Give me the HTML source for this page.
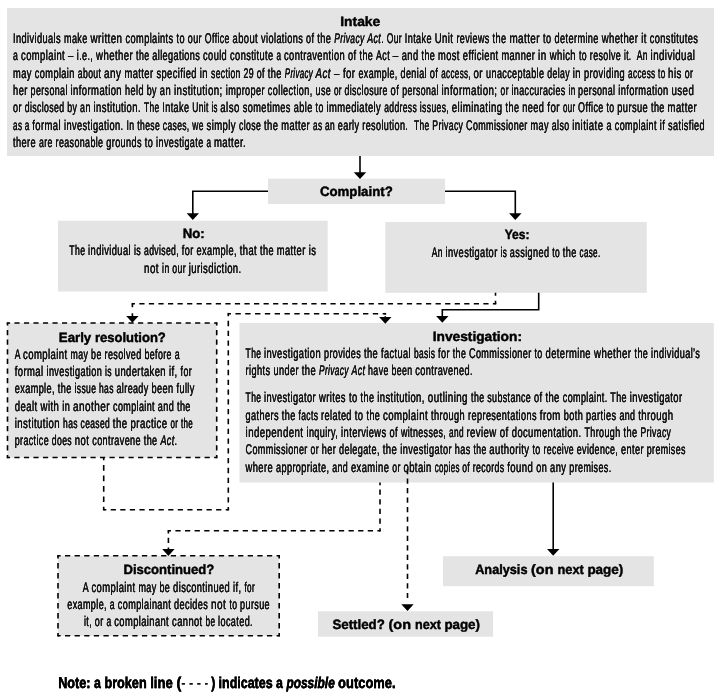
<!DOCTYPE html>
<html lang="en"><head><meta charset="utf-8"><title>Complaint process: Intake and Investigation</title>
<style>
html,body{margin:0;padding:0;background:#fff;}
body{width:720px;height:695px;overflow:hidden;}
svg{display:block;will-change:transform;filter:grayscale(1);}
text{text-rendering:geometricPrecision;font-family:"Liberation Sans",sans-serif;fill:#000;white-space:pre;}
.b{font-size:14px;letter-spacing:.6px;fill:#111;stroke:#111;stroke-width:.2px;filter:drop-shadow(.3px 0 0 #111);}
.t{font-size:13.5px;font-weight:bold;stroke:#000;stroke-width:.45px;}
.n{font-size:15.6px;font-weight:bold;stroke:#000;stroke-width:.3px;filter:drop-shadow(.3px 0 0 #000);}
.i{font-style:italic;}
.h{font-weight:normal;stroke-width:0;}
.bx{fill:#e4e4e4;}
.ln{fill:none;stroke:#000;stroke-width:1.6;}
.dl{fill:none;stroke:#000;stroke-width:1.6;}
.ah{fill:#000;}
</style></head><body>
<svg width="720" height="695" viewBox="0 0 720 695" role="img" aria-label="Flow chart of the complaint process: intake and investigation">
<rect width="720" height="695" fill="#fff"/>
<g id="boxes">
<rect class="bx" x="7.00" y="8.00" width="707.00" height="148.00"/>
<rect class="bx" x="268.00" y="178.70" width="177.00" height="25.30"/>
<rect class="bx" x="58.00" y="220.70" width="269.70" height="70.80"/>
<rect class="bx" x="385.30" y="222.00" width="261.50" height="70.80"/>
<rect class="bx" x="7.50" y="323.00" width="209.20" height="134.50"/>
<rect class="bx" x="239.50" y="323.00" width="474.30" height="159.50"/>
<rect class="bx" x="58.00" y="555.80" width="221.20" height="80.00"/>
<rect class="bx" x="443.00" y="556.20" width="210.80" height="30.00"/>
<rect class="bx" x="318.00" y="611.30" width="175.00" height="25.40"/>
<line class="dl" x1="7.50" y1="323.00" x2="216.70" y2="323.00" stroke-dasharray="5.182 4.327" stroke-dashoffset="2.591"/><line class="dl" x1="216.70" y1="323.00" x2="216.70" y2="457.50" stroke-dasharray="5.236 4.371" stroke-dashoffset="2.618"/><line class="dl" x1="216.70" y1="457.50" x2="7.50" y2="457.50" stroke-dasharray="5.182 4.327" stroke-dashoffset="2.591"/><line class="dl" x1="7.50" y1="457.50" x2="7.50" y2="323.00" stroke-dasharray="5.236 4.371" stroke-dashoffset="2.618"/><rect class="ah" x="6.70" y="322.20" width="1.60" height="1.60"/><rect class="ah" x="215.90" y="322.20" width="1.60" height="1.60"/><rect class="ah" x="215.90" y="456.70" width="1.60" height="1.60"/><rect class="ah" x="6.70" y="456.70" width="1.60" height="1.60"/>
<line class="dl" x1="58.00" y1="555.80" x2="279.20" y2="555.80" stroke-dasharray="5.241 4.376" stroke-dashoffset="2.621"/><line class="dl" x1="279.20" y1="555.80" x2="279.20" y2="635.80" stroke-dasharray="5.450 4.550" stroke-dashoffset="2.725"/><line class="dl" x1="279.20" y1="635.80" x2="58.00" y2="635.80" stroke-dasharray="5.241 4.376" stroke-dashoffset="2.621"/><line class="dl" x1="58.00" y1="635.80" x2="58.00" y2="555.80" stroke-dasharray="5.450 4.550" stroke-dashoffset="2.725"/><rect class="ah" x="57.20" y="555.00" width="1.60" height="1.60"/><rect class="ah" x="278.40" y="555.00" width="1.60" height="1.60"/><rect class="ah" x="278.40" y="635.00" width="1.60" height="1.60"/><rect class="ah" x="57.20" y="635.00" width="1.60" height="1.60"/>
</g>
<g id="connectors">
<path class="ln" d="M360 156 V173"/><path class="ah" d="M353.80 172.20 L366.20 172.20 L360.00 179.00Z"/>
<path class="ln" d="M268 191.3 H192.8 V214"/><path class="ah" d="M186.60 213.30 L199.00 213.30 L192.80 220.10Z"/>
<path class="ln" d="M445 191.3 H515.3 V214"/><path class="ah" d="M509.10 213.30 L521.50 213.30 L515.30 220.10Z"/>
<line class="dl" x1="495.50" y1="292.80" x2="495.50" y2="303.70" stroke-dasharray="5.940 4.959" stroke-dashoffset="2.970"/><line class="dl" x1="495.50" y1="303.70" x2="132.40" y2="303.70" stroke-dasharray="5.208 4.348" stroke-dashoffset="2.604"/><line class="dl" x1="132.40" y1="303.70" x2="132.40" y2="316.70" stroke-dasharray="7.085 5.915" stroke-dashoffset="3.543"/><rect class="ah" x="494.70" y="302.90" width="1.60" height="1.60"/><rect class="ah" x="131.60" y="302.90" width="1.60" height="1.60"/><path class="ah" d="M126.20 316.00 L138.60 316.00 L132.40 322.80Z"/>
<path class="ln" d="M538.7 292.8 V309.8 H442.3 V316"/><path class="ah" d="M436.10 316.00 L448.50 316.00 L442.30 322.80Z"/>
<line class="dl" x1="103.70" y1="457.50" x2="103.70" y2="509.70" stroke-dasharray="5.690 4.750" stroke-dashoffset="2.845"/><line class="dl" x1="103.70" y1="509.70" x2="228.30" y2="509.70" stroke-dasharray="5.224 4.361" stroke-dashoffset="2.612"/><line class="dl" x1="228.30" y1="509.70" x2="228.30" y2="313.70" stroke-dasharray="5.341 4.459" stroke-dashoffset="2.671"/><line class="dl" x1="228.30" y1="313.70" x2="385.30" y2="313.70" stroke-dasharray="5.348 4.465" stroke-dashoffset="2.674"/><line class="dl" x1="385.30" y1="313.70" x2="385.30" y2="318.00" stroke-dasharray="1.842 1.538" stroke-dashoffset="0.921"/><rect class="ah" x="102.90" y="508.90" width="1.60" height="1.60"/><rect class="ah" x="227.50" y="508.90" width="1.60" height="1.60"/><rect class="ah" x="227.50" y="312.90" width="1.60" height="1.60"/><rect class="ah" x="384.50" y="312.90" width="1.60" height="1.60"/><path class="ah" d="M379.10 317.00 L391.50 317.00 L385.30 323.80Z"/>
<line class="dl" x1="380.00" y1="482.50" x2="380.00" y2="530.80" stroke-dasharray="5.265 4.395" stroke-dashoffset="2.632"/><line class="dl" x1="380.00" y1="530.80" x2="168.40" y2="530.80" stroke-dasharray="5.242 4.376" stroke-dashoffset="2.621"/><line class="dl" x1="168.40" y1="530.80" x2="168.40" y2="550.00" stroke-dasharray="5.232 4.368" stroke-dashoffset="2.616"/><rect class="ah" x="379.20" y="530.00" width="1.60" height="1.60"/><rect class="ah" x="167.60" y="530.00" width="1.60" height="1.60"/><path class="ah" d="M162.20 549.10 L174.60 549.10 L168.40 555.90Z"/>
<line class="dl" x1="407.50" y1="469.00" x2="407.50" y2="598.10" stroke-dasharray="5.194 4.337" stroke-dashoffset="0.000"/><path class="ah" d="M401.30 604.30 L413.70 604.30 L407.50 611.10Z"/>
<path class="ln" d="M553.2 482.5 V549"/><path class="ah" d="M547.00 549.00 L559.40 549.00 L553.20 555.80Z"/>
</g>
<g id="titles">
<text class="t" y="25.50"><tspan x="340.20" textLength="40.10" lengthAdjust="spacingAndGlyphs">Intake</tspan></text>
<text class="t" y="195.80"><tspan x="319.90" textLength="72.90" lengthAdjust="spacingAndGlyphs">Complaint?</tspan></text>
<text class="t" y="238.00"><tspan x="182.70" textLength="22.00" lengthAdjust="spacingAndGlyphs">No:</tspan></text>
<text class="t" y="239.30"><tspan x="504.70" textLength="24.70" lengthAdjust="spacingAndGlyphs">Yes:</tspan></text>
<text class="t" y="341.70"><tspan x="58.80" textLength="36.10" lengthAdjust="spacingAndGlyphs">Early </tspan><tspan x="94.90" textLength="70.90" lengthAdjust="spacingAndGlyphs">resolution?</tspan></text>
<text class="t" y="340.80"><tspan x="432.70" textLength="89.30" lengthAdjust="spacingAndGlyphs">Investigation:</tspan></text>
<text class="t" y="574.20"><tspan x="123.50" textLength="90.70" lengthAdjust="spacingAndGlyphs">Discontinued?</tspan></text>
<text class="t" y="573.50"><tspan x="475.20" textLength="55.80" lengthAdjust="spacingAndGlyphs">Analysis </tspan><tspan x="531.00" textLength="26.50" lengthAdjust="spacingAndGlyphs">(on </tspan><tspan x="557.50" textLength="29.90" lengthAdjust="spacingAndGlyphs">next </tspan><tspan x="587.40" textLength="35.90" lengthAdjust="spacingAndGlyphs">page)</tspan></text>
<text class="t" y="628.80"><tspan x="332.40" textLength="56.10" lengthAdjust="spacingAndGlyphs">Settled? </tspan><tspan x="388.50" textLength="26.50" lengthAdjust="spacingAndGlyphs">(on </tspan><tspan x="415.00" textLength="29.40" lengthAdjust="spacingAndGlyphs">next </tspan><tspan x="444.40" textLength="35.60" lengthAdjust="spacingAndGlyphs">page)</tspan></text>
</g>
<g id="body">
<text class="b" y="42.80"><tspan x="13.10" textLength="50.90" lengthAdjust="spacingAndGlyphs">Individuals </tspan><tspan x="64.00" textLength="26.60" lengthAdjust="spacingAndGlyphs">make </tspan><tspan x="90.60" textLength="35.00" lengthAdjust="spacingAndGlyphs">written </tspan><tspan x="125.60" textLength="50.90" lengthAdjust="spacingAndGlyphs">complaints </tspan><tspan x="176.50" textLength="11.30" lengthAdjust="spacingAndGlyphs">to </tspan><tspan x="187.80" textLength="17.00" lengthAdjust="spacingAndGlyphs">our </tspan><tspan x="204.80" textLength="27.80" lengthAdjust="spacingAndGlyphs">Office </tspan><tspan x="232.60" textLength="28.50" lengthAdjust="spacingAndGlyphs">about </tspan><tspan x="261.10" textLength="45.00" lengthAdjust="spacingAndGlyphs">violations </tspan><tspan x="306.10" textLength="11.20" lengthAdjust="spacingAndGlyphs">of </tspan><tspan x="317.30" textLength="17.00" lengthAdjust="spacingAndGlyphs">the </tspan><tspan class="i" x="334.30" textLength="33.00" lengthAdjust="spacingAndGlyphs">Privacy </tspan><tspan x="367.30" textLength="19.50" lengthAdjust="spacingAndGlyphs"><tspan class="i">Act</tspan>. </tspan><tspan x="386.80" textLength="18.00" lengthAdjust="spacingAndGlyphs">Our </tspan><tspan x="404.80" textLength="30.00" lengthAdjust="spacingAndGlyphs">Intake </tspan><tspan x="434.80" textLength="21.70" lengthAdjust="spacingAndGlyphs">Unit </tspan><tspan x="456.50" textLength="36.00" lengthAdjust="spacingAndGlyphs">reviews </tspan><tspan x="492.50" textLength="16.90" lengthAdjust="spacingAndGlyphs">the </tspan><tspan x="509.40" textLength="33.70" lengthAdjust="spacingAndGlyphs">matter </tspan><tspan x="543.10" textLength="58.70" lengthAdjust="spacingAndGlyphs">to determine </tspan><tspan x="601.80" textLength="39.50" lengthAdjust="spacingAndGlyphs">whether </tspan><tspan x="641.30" textLength="8.50" lengthAdjust="spacingAndGlyphs">it </tspan><tspan x="649.80" textLength="48.50" lengthAdjust="spacingAndGlyphs">constitutes</tspan></text>
<text class="b" y="60.20"><tspan x="13.10" textLength="8.00" lengthAdjust="spacingAndGlyphs">a </tspan><tspan x="21.10" textLength="47.00" lengthAdjust="spacingAndGlyphs">complaint </tspan><tspan x="68.10" textLength="8.70" lengthAdjust="spacingAndGlyphs">– </tspan><tspan x="76.80" textLength="19.30" lengthAdjust="spacingAndGlyphs">i.e., </tspan><tspan x="96.10" textLength="40.00" lengthAdjust="spacingAndGlyphs">whether </tspan><tspan x="136.10" textLength="16.20" lengthAdjust="spacingAndGlyphs">the </tspan><tspan x="152.30" textLength="50.80" lengthAdjust="spacingAndGlyphs">allegations </tspan><tspan x="203.10" textLength="27.00" lengthAdjust="spacingAndGlyphs">could </tspan><tspan x="230.10" textLength="46.40" lengthAdjust="spacingAndGlyphs">constitute </tspan><tspan x="276.50" textLength="7.50" lengthAdjust="spacingAndGlyphs">a </tspan><tspan x="284.00" textLength="64.10" lengthAdjust="spacingAndGlyphs">contravention </tspan><tspan x="348.10" textLength="11.40" lengthAdjust="spacingAndGlyphs">of </tspan><tspan x="359.50" textLength="16.60" lengthAdjust="spacingAndGlyphs">the </tspan><tspan x="376.10" textLength="16.70" lengthAdjust="spacingAndGlyphs">Act </tspan><tspan x="392.80" textLength="9.00" lengthAdjust="spacingAndGlyphs">– </tspan><tspan x="401.80" textLength="19.70" lengthAdjust="spacingAndGlyphs">and </tspan><tspan x="421.50" textLength="16.60" lengthAdjust="spacingAndGlyphs">the </tspan><tspan x="438.10" textLength="24.70" lengthAdjust="spacingAndGlyphs">most </tspan><tspan x="462.80" textLength="38.70" lengthAdjust="spacingAndGlyphs">efficient </tspan><tspan x="501.50" textLength="36.60" lengthAdjust="spacingAndGlyphs">manner </tspan><tspan x="538.10" textLength="11.70" lengthAdjust="spacingAndGlyphs">in </tspan><tspan x="549.80" textLength="29.20" lengthAdjust="spacingAndGlyphs">which </tspan><tspan x="579.00" textLength="10.80" lengthAdjust="spacingAndGlyphs">to </tspan><tspan x="589.80" textLength="34.20" lengthAdjust="spacingAndGlyphs">resolve </tspan><tspan x="624.00" textLength="12.80" lengthAdjust="spacingAndGlyphs">it.  </tspan><tspan x="636.80" textLength="13.80" lengthAdjust="spacingAndGlyphs">An </tspan><tspan x="650.60" textLength="44.70" lengthAdjust="spacingAndGlyphs">individual</tspan></text>
<text class="b" y="77.60"><tspan x="13.10" textLength="21.70" lengthAdjust="spacingAndGlyphs">may </tspan><tspan x="34.80" textLength="43.00" lengthAdjust="spacingAndGlyphs">complain </tspan><tspan x="77.80" textLength="26.20" lengthAdjust="spacingAndGlyphs">about </tspan><tspan x="104.00" textLength="20.50" lengthAdjust="spacingAndGlyphs">any </tspan><tspan x="124.50" textLength="32.00" lengthAdjust="spacingAndGlyphs">matter </tspan><tspan x="156.50" textLength="43.30" lengthAdjust="spacingAndGlyphs">specified </tspan><tspan x="199.80" textLength="11.20" lengthAdjust="spacingAndGlyphs">in </tspan><tspan x="211.00" textLength="32.50" lengthAdjust="spacingAndGlyphs">section </tspan><tspan x="243.50" textLength="13.30" lengthAdjust="spacingAndGlyphs">29 </tspan><tspan x="256.80" textLength="11.00" lengthAdjust="spacingAndGlyphs">of </tspan><tspan x="267.80" textLength="17.00" lengthAdjust="spacingAndGlyphs">the </tspan><tspan class="i" x="284.80" textLength="30.80" lengthAdjust="spacingAndGlyphs">Privacy </tspan><tspan class="i" x="315.60" textLength="18.40" lengthAdjust="spacingAndGlyphs">Act </tspan><tspan x="334.00" textLength="24.50" lengthAdjust="spacingAndGlyphs">– for </tspan><tspan x="358.50" textLength="42.10" lengthAdjust="spacingAndGlyphs">example, </tspan><tspan x="400.60" textLength="29.20" lengthAdjust="spacingAndGlyphs">denial </tspan><tspan x="429.80" textLength="11.50" lengthAdjust="spacingAndGlyphs">of </tspan><tspan x="441.30" textLength="32.20" lengthAdjust="spacingAndGlyphs">access, </tspan><tspan x="473.50" textLength="12.60" lengthAdjust="spacingAndGlyphs">or </tspan><tspan x="486.10" textLength="61.20" lengthAdjust="spacingAndGlyphs">unacceptable </tspan><tspan x="547.30" textLength="25.50" lengthAdjust="spacingAndGlyphs">delay </tspan><tspan x="572.80" textLength="11.20" lengthAdjust="spacingAndGlyphs">in </tspan><tspan x="584.00" textLength="44.10" lengthAdjust="spacingAndGlyphs">providing </tspan><tspan x="628.10" textLength="30.00" lengthAdjust="spacingAndGlyphs">access </tspan><tspan x="658.10" textLength="10.00" lengthAdjust="spacingAndGlyphs">to </tspan><tspan x="668.10" textLength="16.70" lengthAdjust="spacingAndGlyphs">his </tspan><tspan x="684.80" textLength="8.50" lengthAdjust="spacingAndGlyphs">or</tspan></text>
<text class="b" y="95.00"><tspan x="13.10" textLength="17.50" lengthAdjust="spacingAndGlyphs">her </tspan><tspan x="30.60" textLength="40.00" lengthAdjust="spacingAndGlyphs">personal </tspan><tspan x="70.60" textLength="54.50" lengthAdjust="spacingAndGlyphs">information </tspan><tspan x="125.10" textLength="21.70" lengthAdjust="spacingAndGlyphs">held </tspan><tspan x="146.80" textLength="13.00" lengthAdjust="spacingAndGlyphs">by </tspan><tspan x="159.80" textLength="14.20" lengthAdjust="spacingAndGlyphs">an </tspan><tspan x="174.00" textLength="51.80" lengthAdjust="spacingAndGlyphs">institution; </tspan><tspan x="225.80" textLength="42.00" lengthAdjust="spacingAndGlyphs">improper </tspan><tspan x="267.80" textLength="47.80" lengthAdjust="spacingAndGlyphs">collection, </tspan><tspan x="315.60" textLength="18.40" lengthAdjust="spacingAndGlyphs">use </tspan><tspan x="334.00" textLength="10.50" lengthAdjust="spacingAndGlyphs">or </tspan><tspan x="344.50" textLength="46.10" lengthAdjust="spacingAndGlyphs">disclosure </tspan><tspan x="390.60" textLength="11.70" lengthAdjust="spacingAndGlyphs">of </tspan><tspan x="402.30" textLength="39.20" lengthAdjust="spacingAndGlyphs">personal </tspan><tspan x="441.50" textLength="59.10" lengthAdjust="spacingAndGlyphs">information; </tspan><tspan x="500.60" textLength="10.90" lengthAdjust="spacingAndGlyphs">or </tspan><tspan x="511.50" textLength="57.00" lengthAdjust="spacingAndGlyphs">inaccuracies </tspan><tspan x="568.50" textLength="9.60" lengthAdjust="spacingAndGlyphs">in </tspan><tspan x="578.10" textLength="40.20" lengthAdjust="spacingAndGlyphs">personal </tspan><tspan x="618.30" textLength="53.20" lengthAdjust="spacingAndGlyphs">information </tspan><tspan x="671.50" textLength="22.80" lengthAdjust="spacingAndGlyphs">used</tspan></text>
<text class="b" y="112.40"><tspan x="13.10" textLength="11.70" lengthAdjust="spacingAndGlyphs">or </tspan><tspan x="24.80" textLength="42.50" lengthAdjust="spacingAndGlyphs">disclosed </tspan><tspan x="67.30" textLength="12.80" lengthAdjust="spacingAndGlyphs">by </tspan><tspan x="80.10" textLength="13.50" lengthAdjust="spacingAndGlyphs">an </tspan><tspan x="93.60" textLength="50.40" lengthAdjust="spacingAndGlyphs">institution. </tspan><tspan x="144.00" textLength="18.30" lengthAdjust="spacingAndGlyphs">The </tspan><tspan x="162.30" textLength="30.00" lengthAdjust="spacingAndGlyphs">Intake </tspan><tspan x="192.30" textLength="19.20" lengthAdjust="spacingAndGlyphs">Unit </tspan><tspan x="211.50" textLength="8.80" lengthAdjust="spacingAndGlyphs">is </tspan><tspan x="220.30" textLength="22.50" lengthAdjust="spacingAndGlyphs">also </tspan><tspan x="242.80" textLength="51.00" lengthAdjust="spacingAndGlyphs">sometimes </tspan><tspan x="293.80" textLength="21.80" lengthAdjust="spacingAndGlyphs">able </tspan><tspan x="315.60" textLength="10.90" lengthAdjust="spacingAndGlyphs">to </tspan><tspan x="326.50" textLength="57.70" lengthAdjust="spacingAndGlyphs">immediately </tspan><tspan x="384.20" textLength="35.60" lengthAdjust="spacingAndGlyphs">address </tspan><tspan x="419.80" textLength="32.00" lengthAdjust="spacingAndGlyphs">issues, </tspan><tspan x="451.80" textLength="53.80" lengthAdjust="spacingAndGlyphs">eliminating </tspan><tspan x="505.60" textLength="16.70" lengthAdjust="spacingAndGlyphs">the </tspan><tspan x="522.30" textLength="25.00" lengthAdjust="spacingAndGlyphs">need </tspan><tspan x="547.30" textLength="15.80" lengthAdjust="spacingAndGlyphs">for </tspan><tspan x="563.10" textLength="15.00" lengthAdjust="spacingAndGlyphs">our </tspan><tspan x="578.10" textLength="28.40" lengthAdjust="spacingAndGlyphs">Office </tspan><tspan x="606.50" textLength="10.80" lengthAdjust="spacingAndGlyphs">to </tspan><tspan x="617.30" textLength="33.70" lengthAdjust="spacingAndGlyphs">pursue </tspan><tspan x="651.00" textLength="16.60" lengthAdjust="spacingAndGlyphs">the </tspan><tspan x="667.60" textLength="29.40" lengthAdjust="spacingAndGlyphs">matter</tspan></text>
<text class="b" y="129.80"><tspan x="13.10" textLength="11.70" lengthAdjust="spacingAndGlyphs">as </tspan><tspan x="24.80" textLength="7.50" lengthAdjust="spacingAndGlyphs">a </tspan><tspan x="32.30" textLength="31.70" lengthAdjust="spacingAndGlyphs">formal </tspan><tspan x="64.00" textLength="62.50" lengthAdjust="spacingAndGlyphs">investigation. </tspan><tspan x="126.50" textLength="10.80" lengthAdjust="spacingAndGlyphs">In </tspan><tspan x="137.30" textLength="25.50" lengthAdjust="spacingAndGlyphs">these </tspan><tspan x="162.80" textLength="29.50" lengthAdjust="spacingAndGlyphs">cases, </tspan><tspan x="192.30" textLength="14.20" lengthAdjust="spacingAndGlyphs">we </tspan><tspan x="206.50" textLength="32.50" lengthAdjust="spacingAndGlyphs">simply </tspan><tspan x="239.00" textLength="25.00" lengthAdjust="spacingAndGlyphs">close </tspan><tspan x="264.00" textLength="17.30" lengthAdjust="spacingAndGlyphs">the </tspan><tspan x="281.30" textLength="31.70" lengthAdjust="spacingAndGlyphs">matter </tspan><tspan x="313.00" textLength="12.00" lengthAdjust="spacingAndGlyphs">as </tspan><tspan x="325.00" textLength="12.80" lengthAdjust="spacingAndGlyphs">an </tspan><tspan x="337.80" textLength="24.50" lengthAdjust="spacingAndGlyphs">early </tspan><tspan x="362.30" textLength="51.70" lengthAdjust="spacingAndGlyphs">resolution.  </tspan><tspan x="414.00" textLength="18.30" lengthAdjust="spacingAndGlyphs">The </tspan><tspan x="432.30" textLength="33.80" lengthAdjust="spacingAndGlyphs">Privacy </tspan><tspan x="466.10" textLength="64.50" lengthAdjust="spacingAndGlyphs">Commissioner </tspan><tspan x="530.60" textLength="21.20" lengthAdjust="spacingAndGlyphs">may </tspan><tspan x="551.80" textLength="20.50" lengthAdjust="spacingAndGlyphs">also </tspan><tspan x="572.30" textLength="34.20" lengthAdjust="spacingAndGlyphs">initiate </tspan><tspan x="606.50" textLength="53.30" lengthAdjust="spacingAndGlyphs">a complaint </tspan><tspan x="659.80" textLength="45.20" lengthAdjust="spacingAndGlyphs">if satisfied</tspan></text>
<text class="b" y="147.20"><tspan x="13.10" textLength="25.90" lengthAdjust="spacingAndGlyphs">there </tspan><tspan x="39.00" textLength="16.60" lengthAdjust="spacingAndGlyphs">are </tspan><tspan x="55.60" textLength="50.70" lengthAdjust="spacingAndGlyphs">reasonable </tspan><tspan x="106.30" textLength="38.50" lengthAdjust="spacingAndGlyphs">grounds </tspan><tspan x="144.80" textLength="11.30" lengthAdjust="spacingAndGlyphs">to </tspan><tspan x="156.10" textLength="50.40" lengthAdjust="spacingAndGlyphs">investigate </tspan><tspan x="206.50" textLength="7.50" lengthAdjust="spacingAndGlyphs">a </tspan><tspan x="214.00" textLength="32.00" lengthAdjust="spacingAndGlyphs">matter.</tspan></text>
<text class="b" y="255.30"><tspan x="69.30" textLength="18.80" lengthAdjust="spacingAndGlyphs">The </tspan><tspan x="88.10" textLength="45.90" lengthAdjust="spacingAndGlyphs">individual </tspan><tspan x="134.00" textLength="10.00" lengthAdjust="spacingAndGlyphs">is </tspan><tspan x="144.00" textLength="37.80" lengthAdjust="spacingAndGlyphs">advised, </tspan><tspan x="181.80" textLength="14.70" lengthAdjust="spacingAndGlyphs">for </tspan><tspan x="196.50" textLength="43.30" lengthAdjust="spacingAndGlyphs">example, </tspan><tspan x="239.80" textLength="20.30" lengthAdjust="spacingAndGlyphs">that </tspan><tspan x="260.10" textLength="16.70" lengthAdjust="spacingAndGlyphs">the </tspan><tspan x="276.80" textLength="39.50" lengthAdjust="spacingAndGlyphs">matter is</tspan></text>
<text class="b" y="272.70"><tspan x="144.10" textLength="18.00" lengthAdjust="spacingAndGlyphs">not </tspan><tspan x="162.10" textLength="10.20" lengthAdjust="spacingAndGlyphs">in </tspan><tspan x="172.30" textLength="16.50" lengthAdjust="spacingAndGlyphs">our </tspan><tspan x="188.80" textLength="52.80" lengthAdjust="spacingAndGlyphs">jurisdiction.</tspan></text>
<text class="b" y="256.80"><tspan x="431.80" textLength="13.80" lengthAdjust="spacingAndGlyphs">An </tspan><tspan x="445.60" textLength="55.00" lengthAdjust="spacingAndGlyphs">investigator </tspan><tspan x="500.60" textLength="9.20" lengthAdjust="spacingAndGlyphs">is </tspan><tspan x="509.80" textLength="42.50" lengthAdjust="spacingAndGlyphs">assigned </tspan><tspan x="552.30" textLength="10.50" lengthAdjust="spacingAndGlyphs">to </tspan><tspan x="562.80" textLength="16.80" lengthAdjust="spacingAndGlyphs">the </tspan><tspan x="579.60" textLength="20.90" lengthAdjust="spacingAndGlyphs">case.</tspan></text>
<text class="b" y="358.60"><tspan x="14.80" textLength="8.30" lengthAdjust="spacingAndGlyphs">A </tspan><tspan x="23.10" textLength="47.50" lengthAdjust="spacingAndGlyphs">complaint </tspan><tspan x="70.60" textLength="20.50" lengthAdjust="spacingAndGlyphs">may </tspan><tspan x="91.10" textLength="13.40" lengthAdjust="spacingAndGlyphs">be </tspan><tspan x="104.50" textLength="40.00" lengthAdjust="spacingAndGlyphs">resolved </tspan><tspan x="144.50" textLength="35.50" lengthAdjust="spacingAndGlyphs">before a</tspan></text>
<text class="b" y="376.00"><tspan x="14.80" textLength="31.70" lengthAdjust="spacingAndGlyphs">formal </tspan><tspan x="46.50" textLength="58.60" lengthAdjust="spacingAndGlyphs">investigation </tspan><tspan x="105.10" textLength="9.70" lengthAdjust="spacingAndGlyphs">is </tspan><tspan x="114.80" textLength="54.20" lengthAdjust="spacingAndGlyphs">undertaken </tspan><tspan x="169.00" textLength="11.60" lengthAdjust="spacingAndGlyphs">if, </tspan><tspan x="180.60" textLength="11.40" lengthAdjust="spacingAndGlyphs">for</tspan></text>
<text class="b" y="393.30"><tspan x="14.80" textLength="43.00" lengthAdjust="spacingAndGlyphs">example, </tspan><tspan x="57.80" textLength="16.70" lengthAdjust="spacingAndGlyphs">the </tspan><tspan x="74.50" textLength="24.50" lengthAdjust="spacingAndGlyphs">issue </tspan><tspan x="99.00" textLength="17.50" lengthAdjust="spacingAndGlyphs">has </tspan><tspan x="116.50" textLength="35.00" lengthAdjust="spacingAndGlyphs">already </tspan><tspan x="151.50" textLength="25.00" lengthAdjust="spacingAndGlyphs">been </tspan><tspan x="176.50" textLength="18.20" lengthAdjust="spacingAndGlyphs">fully</tspan></text>
<text class="b" y="410.60"><tspan x="14.80" textLength="25.80" lengthAdjust="spacingAndGlyphs">dealt </tspan><tspan x="40.60" textLength="21.70" lengthAdjust="spacingAndGlyphs">with </tspan><tspan x="62.30" textLength="10.80" lengthAdjust="spacingAndGlyphs">in </tspan><tspan x="73.10" textLength="40.00" lengthAdjust="spacingAndGlyphs">another </tspan><tspan x="113.10" textLength="44.70" lengthAdjust="spacingAndGlyphs">complaint </tspan><tspan x="157.80" textLength="33.00" lengthAdjust="spacingAndGlyphs">and the</tspan></text>
<text class="b" y="427.80"><tspan x="14.80" textLength="48.30" lengthAdjust="spacingAndGlyphs">institution </tspan><tspan x="63.10" textLength="17.50" lengthAdjust="spacingAndGlyphs">has </tspan><tspan x="80.60" textLength="32.20" lengthAdjust="spacingAndGlyphs">ceased </tspan><tspan x="112.80" textLength="57.80" lengthAdjust="spacingAndGlyphs">the practice </tspan><tspan x="170.60" textLength="22.40" lengthAdjust="spacingAndGlyphs">or the</tspan></text>
<text class="b" y="445.10"><tspan x="14.80" textLength="37.00" lengthAdjust="spacingAndGlyphs">practice </tspan><tspan x="51.80" textLength="23.00" lengthAdjust="spacingAndGlyphs">does </tspan><tspan x="74.80" textLength="17.50" lengthAdjust="spacingAndGlyphs">not </tspan><tspan x="92.30" textLength="85.20" lengthAdjust="spacingAndGlyphs">contravene the <tspan class="i">Act</tspan>.</tspan></text>
<text class="b" y="357.80"><tspan x="245.60" textLength="18.40" lengthAdjust="spacingAndGlyphs">The </tspan><tspan x="264.00" textLength="60.00" lengthAdjust="spacingAndGlyphs">investigation </tspan><tspan x="324.00" textLength="40.00" lengthAdjust="spacingAndGlyphs">provides </tspan><tspan x="364.00" textLength="17.10" lengthAdjust="spacingAndGlyphs">the </tspan><tspan x="381.10" textLength="32.90" lengthAdjust="spacingAndGlyphs">factual </tspan><tspan x="414.00" textLength="24.10" lengthAdjust="spacingAndGlyphs">basis </tspan><tspan x="438.10" textLength="14.70" lengthAdjust="spacingAndGlyphs">for </tspan><tspan x="452.80" textLength="16.20" lengthAdjust="spacingAndGlyphs">the </tspan><tspan x="469.00" textLength="65.50" lengthAdjust="spacingAndGlyphs">Commissioner </tspan><tspan x="534.50" textLength="11.10" lengthAdjust="spacingAndGlyphs">to </tspan><tspan x="545.60" textLength="48.40" lengthAdjust="spacingAndGlyphs">determine </tspan><tspan x="594.00" textLength="40.50" lengthAdjust="spacingAndGlyphs">whether </tspan><tspan x="634.50" textLength="16.60" lengthAdjust="spacingAndGlyphs">the </tspan><tspan x="651.10" textLength="49.20" lengthAdjust="spacingAndGlyphs">individual’s</tspan></text>
<text class="b" y="375.30"><tspan x="245.60" textLength="27.90" lengthAdjust="spacingAndGlyphs">rights </tspan><tspan x="273.50" textLength="28.30" lengthAdjust="spacingAndGlyphs">under </tspan><tspan x="301.80" textLength="17.20" lengthAdjust="spacingAndGlyphs">the </tspan><tspan class="i" x="319.00" textLength="32.50" lengthAdjust="spacingAndGlyphs">Privacy </tspan><tspan class="i" x="351.50" textLength="16.60" lengthAdjust="spacingAndGlyphs">Act </tspan><tspan x="368.10" textLength="23.40" lengthAdjust="spacingAndGlyphs">have </tspan><tspan x="391.50" textLength="23.80" lengthAdjust="spacingAndGlyphs">been </tspan><tspan x="415.30" textLength="57.70" lengthAdjust="spacingAndGlyphs">contravened.</tspan></text>
<text class="b" y="402.20"><tspan x="245.60" textLength="18.40" lengthAdjust="spacingAndGlyphs">The </tspan><tspan x="264.00" textLength="55.00" lengthAdjust="spacingAndGlyphs">investigator </tspan><tspan x="319.00" textLength="30.00" lengthAdjust="spacingAndGlyphs">writes </tspan><tspan x="349.00" textLength="11.60" lengthAdjust="spacingAndGlyphs">to </tspan><tspan x="360.60" textLength="16.70" lengthAdjust="spacingAndGlyphs">the </tspan><tspan x="377.30" textLength="50.50" lengthAdjust="spacingAndGlyphs">institution, </tspan><tspan x="427.80" textLength="43.30" lengthAdjust="spacingAndGlyphs">outlining </tspan><tspan x="471.10" textLength="16.20" lengthAdjust="spacingAndGlyphs">the </tspan><tspan x="487.30" textLength="46.70" lengthAdjust="spacingAndGlyphs">substance </tspan><tspan x="534.00" textLength="11.40" lengthAdjust="spacingAndGlyphs">of </tspan><tspan x="545.40" textLength="17.40" lengthAdjust="spacingAndGlyphs">the </tspan><tspan x="562.80" textLength="67.00" lengthAdjust="spacingAndGlyphs">complaint. The </tspan><tspan x="629.80" textLength="52.70" lengthAdjust="spacingAndGlyphs">investigator</tspan></text>
<text class="b" y="419.60"><tspan x="245.60" textLength="36.20" lengthAdjust="spacingAndGlyphs">gathers </tspan><tspan x="281.80" textLength="16.70" lengthAdjust="spacingAndGlyphs">the </tspan><tspan x="298.50" textLength="22.60" lengthAdjust="spacingAndGlyphs">facts </tspan><tspan x="321.10" textLength="33.70" lengthAdjust="spacingAndGlyphs">related </tspan><tspan x="354.80" textLength="11.70" lengthAdjust="spacingAndGlyphs">to </tspan><tspan x="366.50" textLength="16.60" lengthAdjust="spacingAndGlyphs">the </tspan><tspan x="383.10" textLength="48.00" lengthAdjust="spacingAndGlyphs">complaint </tspan><tspan x="431.10" textLength="37.00" lengthAdjust="spacingAndGlyphs">through </tspan><tspan x="468.10" textLength="71.70" lengthAdjust="spacingAndGlyphs">representations </tspan><tspan x="539.80" textLength="24.00" lengthAdjust="spacingAndGlyphs">from </tspan><tspan x="563.80" textLength="22.30" lengthAdjust="spacingAndGlyphs">both </tspan><tspan x="586.10" textLength="33.30" lengthAdjust="spacingAndGlyphs">parties </tspan><tspan x="619.40" textLength="18.80" lengthAdjust="spacingAndGlyphs">and </tspan><tspan x="638.20" textLength="35.40" lengthAdjust="spacingAndGlyphs">through</tspan></text>
<text class="b" y="437.00"><tspan x="245.60" textLength="60.90" lengthAdjust="spacingAndGlyphs">independent </tspan><tspan x="306.50" textLength="34.60" lengthAdjust="spacingAndGlyphs">inquiry, </tspan><tspan x="341.10" textLength="48.40" lengthAdjust="spacingAndGlyphs">interviews </tspan><tspan x="389.50" textLength="11.50" lengthAdjust="spacingAndGlyphs">of </tspan><tspan x="401.00" textLength="48.00" lengthAdjust="spacingAndGlyphs">witnesses, </tspan><tspan x="449.00" textLength="17.50" lengthAdjust="spacingAndGlyphs">and </tspan><tspan x="466.50" textLength="33.30" lengthAdjust="spacingAndGlyphs">review </tspan><tspan x="499.80" textLength="12.00" lengthAdjust="spacingAndGlyphs">of </tspan><tspan x="511.80" textLength="72.70" lengthAdjust="spacingAndGlyphs">documentation. </tspan><tspan x="584.50" textLength="39.00" lengthAdjust="spacingAndGlyphs">Through </tspan><tspan x="623.50" textLength="17.00" lengthAdjust="spacingAndGlyphs">the </tspan><tspan x="640.50" textLength="30.80" lengthAdjust="spacingAndGlyphs">Privacy</tspan></text>
<text class="b" y="454.40"><tspan x="245.60" textLength="65.00" lengthAdjust="spacingAndGlyphs">Commissioner </tspan><tspan x="310.60" textLength="11.20" lengthAdjust="spacingAndGlyphs">or </tspan><tspan x="321.80" textLength="17.20" lengthAdjust="spacingAndGlyphs">her </tspan><tspan x="339.00" textLength="43.80" lengthAdjust="spacingAndGlyphs">delegate, </tspan><tspan x="382.80" textLength="17.50" lengthAdjust="spacingAndGlyphs">the </tspan><tspan x="400.30" textLength="54.50" lengthAdjust="spacingAndGlyphs">investigator </tspan><tspan x="454.80" textLength="18.70" lengthAdjust="spacingAndGlyphs">has </tspan><tspan x="473.50" textLength="15.80" lengthAdjust="spacingAndGlyphs">the </tspan><tspan x="489.30" textLength="43.20" lengthAdjust="spacingAndGlyphs">authority </tspan><tspan x="532.50" textLength="11.10" lengthAdjust="spacingAndGlyphs">to </tspan><tspan x="543.60" textLength="33.20" lengthAdjust="spacingAndGlyphs">receive </tspan><tspan x="576.80" textLength="44.20" lengthAdjust="spacingAndGlyphs">evidence, </tspan><tspan x="621.00" textLength="25.80" lengthAdjust="spacingAndGlyphs">enter </tspan><tspan x="646.80" textLength="39.00" lengthAdjust="spacingAndGlyphs">premises</tspan></text>
<text class="b" y="471.70"><tspan x="245.60" textLength="30.40" lengthAdjust="spacingAndGlyphs">where </tspan><tspan x="276.00" textLength="56.30" lengthAdjust="spacingAndGlyphs">appropriate, </tspan><tspan x="332.30" textLength="18.70" lengthAdjust="spacingAndGlyphs">and </tspan><tspan x="351.00" textLength="41.30" lengthAdjust="spacingAndGlyphs">examine </tspan><tspan x="392.30" textLength="11.20" lengthAdjust="spacingAndGlyphs">or </tspan><tspan x="403.50" textLength="31.30" lengthAdjust="spacingAndGlyphs">obtain </tspan><tspan x="434.80" textLength="27.50" lengthAdjust="spacingAndGlyphs">copies </tspan><tspan x="462.30" textLength="10.50" lengthAdjust="spacingAndGlyphs">of </tspan><tspan x="472.80" textLength="34.50" lengthAdjust="spacingAndGlyphs">records </tspan><tspan x="507.30" textLength="29.00" lengthAdjust="spacingAndGlyphs">found </tspan><tspan x="536.30" textLength="13.80" lengthAdjust="spacingAndGlyphs">on </tspan><tspan x="550.10" textLength="19.20" lengthAdjust="spacingAndGlyphs">any </tspan><tspan x="569.30" textLength="42.30" lengthAdjust="spacingAndGlyphs">premises.</tspan></text>
<text class="b" y="591.50"><tspan x="82.80" textLength="8.70" lengthAdjust="spacingAndGlyphs">A </tspan><tspan x="91.50" textLength="47.00" lengthAdjust="spacingAndGlyphs">complaint </tspan><tspan x="138.50" textLength="21.00" lengthAdjust="spacingAndGlyphs">may </tspan><tspan x="159.50" textLength="13.60" lengthAdjust="spacingAndGlyphs">be </tspan><tspan x="173.10" textLength="60.00" lengthAdjust="spacingAndGlyphs">discontinued </tspan><tspan x="233.10" textLength="11.40" lengthAdjust="spacingAndGlyphs">if, </tspan><tspan x="244.50" textLength="10.50" lengthAdjust="spacingAndGlyphs">for</tspan></text>
<text class="b" y="608.90"><tspan x="67.30" textLength="42.50" lengthAdjust="spacingAndGlyphs">example, </tspan><tspan x="109.80" textLength="8.00" lengthAdjust="spacingAndGlyphs">a </tspan><tspan x="117.80" textLength="93.30" lengthAdjust="spacingAndGlyphs">complainant decides </tspan><tspan x="211.10" textLength="18.40" lengthAdjust="spacingAndGlyphs">not </tspan><tspan x="229.50" textLength="10.60" lengthAdjust="spacingAndGlyphs">to </tspan><tspan x="240.10" textLength="29.90" lengthAdjust="spacingAndGlyphs">pursue</tspan></text>
<text class="b" y="626.30"><tspan x="84.00" textLength="10.80" lengthAdjust="spacingAndGlyphs">it, </tspan><tspan x="94.80" textLength="11.70" lengthAdjust="spacingAndGlyphs">or </tspan><tspan x="106.50" textLength="7.80" lengthAdjust="spacingAndGlyphs">a </tspan><tspan x="114.30" textLength="91.30" lengthAdjust="spacingAndGlyphs">complainant cannot </tspan><tspan x="205.60" textLength="12.50" lengthAdjust="spacingAndGlyphs">be </tspan><tspan x="218.10" textLength="34.90" lengthAdjust="spacingAndGlyphs">located.</tspan></text>
</g>
<text class="n" y="688.10"><tspan x="58.20" textLength="35.90" lengthAdjust="spacingAndGlyphs">Note: </tspan><tspan x="94.10" textLength="10.30" lengthAdjust="spacingAndGlyphs">a </tspan><tspan x="104.40" textLength="45.80" lengthAdjust="spacingAndGlyphs">broken </tspan><tspan x="150.20" textLength="26.20" lengthAdjust="spacingAndGlyphs">line </tspan><tspan x="176.40" textLength="4.80" lengthAdjust="spacingAndGlyphs">(</tspan><tspan class="h" x="181.20" textLength="7.80" lengthAdjust="spacingAndGlyphs">- </tspan><tspan class="h" x="189.00" textLength="7.80" lengthAdjust="spacingAndGlyphs">- </tspan><tspan class="h" x="196.80" textLength="7.80" lengthAdjust="spacingAndGlyphs">- </tspan><tspan class="h" x="204.60" textLength="6.60" lengthAdjust="spacingAndGlyphs">- </tspan><tspan x="211.20" textLength="7.40" lengthAdjust="spacingAndGlyphs">) </tspan><tspan x="218.60" textLength="57.50" lengthAdjust="spacingAndGlyphs">indicates </tspan><tspan x="276.10" textLength="10.30" lengthAdjust="spacingAndGlyphs">a </tspan><tspan class="i" x="286.40" textLength="51.70" lengthAdjust="spacingAndGlyphs">possible </tspan><tspan x="338.10" textLength="57.50" lengthAdjust="spacingAndGlyphs">outcome.</tspan></text>
</svg></body></html>
